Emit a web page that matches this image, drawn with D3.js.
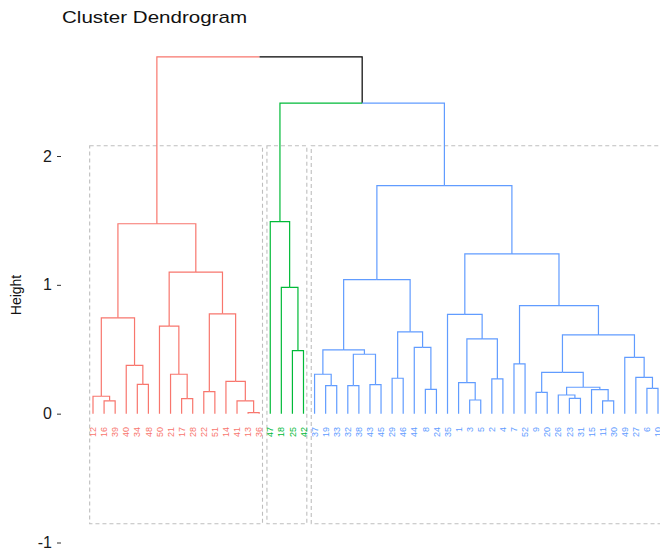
<!DOCTYPE html>
<html>
<head>
<meta charset="utf-8">
<script src="https://cdn.jsdelivr.net/npm/d3@7"></script>
<style>
  html, body { margin: 0; padding: 0; background: #fff; }
  svg { display: block; font-family: "Liberation Sans", Arial, sans-serif; }
</style>
</head>
<body>
<svg id="chart" width="660" height="554"></svg>
<script>
// Leaf order along the x axis
const leafOrder = ["12","16","39","40","34","48","50","21","17","28","22","51","14","41","13","36",
  "47","18","25","42",
  "37","19","33","32","38","43","45","29","46","44","8","24","35","1","3","5","2","4","7","52",
  "9","20","26","23","31","15","11","30","49","27","6","10"];

// Cluster membership (k = 3)
const clusterRed   = ["12","16","39","40","34","48","50","21","17","28","22","51","14","41","13","36"];
const clusterGreen = ["47","18","25","42"];
const clusterBlue  = ["37","19","33","32","38","43","45","29","46","44","8","24","35","1","3","5","2","4","7","52",
  "9","20","26","23","31","15","11","30","49","27","6","10"];
const clusterColors = ["#F8766D", "#00BA38", "#619CFF"];

// Agglomeration steps: [childA, childB, height]; strings are leaves, numbers refer to earlier steps
const mergeA = ["16","12","34","40",1,"17","21","50","22","13","41","14",8,7,4,
  "25","18","47",
  "19","37","32","43",20,19,"29","8","44",24,23,"3","1","2",30,"35","7","9","23","26","11","15",37,35,"6","27","49",41,34,33,28,
  17,14];
const mergeB = ["39",0,"48",2,3,"28",5,6,"51","36",9,10,11,12,13,
  "42",15,16,
  "33",18,"38","45",21,22,"46","24",25,26,27,"5",29,"4",31,32,"52","20","31",36,"30",38,39,40,"10",42,43,44,45,46,47,
  48,49];
const mergeHeight = [0.10,0.135,0.228,0.375,0.744,0.117,0.306,0.68,0.171,0.008,0.10,0.251,0.775,1.098,1.474,
  0.49,0.98,1.49,
  0.218,0.306,0.218,0.225,0.461,0.495,0.275,0.189,0.515,0.635,1.041,0.106,0.241,0.27,0.58,0.77,0.386,0.166,0.119,0.145,0.10,0.186,0.205,0.321,0.197,0.282,0.437,0.611,0.839,1.24,1.77,
  2.41,2.77];

const yTicks = [-1, 0, 1, 2];
const rectTop = 2.08, rectBottom = -0.855;

const svg = d3.select("#chart");

const x = d3.scaleLinear().domain([0, leafOrder.length - 1]).range([93, 658]);
const y = d3.scaleLinear().domain([-1, 2]).range([542.5, 156]);

const colorOf = {};
[clusterRed, clusterGreen, clusterBlue].forEach((c, i) => c.forEach(l => colorOf[l] = clusterColors[i]));

// Build nodes
const leafNode = {};
leafOrder.forEach((l, i) => leafNode[l] = { x: x(i), h: 0, color: colorOf[l], label: l });
const nodes = [];
mergeA.forEach((a, i) => {
  const ca = typeof a === "string" ? leafNode[a] : nodes[a];
  const b = mergeB[i];
  const cb = typeof b === "string" ? leafNode[b] : nodes[b];
  const color = ca.color === cb.color ? ca.color : "#000000";
  nodes.push({ x: (ca.x + cb.x) / 2, h: mergeHeight[i], children: [ca, cb], color });
});
const root = nodes[nodes.length - 1];

// Cluster rectangles (dashed)
const gRect = svg.append("g");
[clusterRed, clusterGreen, clusterBlue].forEach(c => {
  const i0 = leafOrder.indexOf(c[0]), i1 = leafOrder.indexOf(c[c.length - 1]);
  const x0 = x(i0 - 0.3), x1 = x(i1 + 0.3);
  gRect.append("rect")
    .attr("x", x0).attr("y", y(rectTop))
    .attr("width", x1 - x0).attr("height", y(rectBottom) - y(rectTop))
    .attr("fill", "none").attr("stroke", "#BEBEBE")
    .attr("stroke-width", 1.1).attr("stroke-dasharray", "4,3");
});

// Elbow segments: parent height -> child position, coloured by child
const gTree = svg.append("g").attr("fill", "none").attr("stroke-width", 1.2);
function drawEdges(node) {
  if (!node.children) return;
  node.children.forEach(ch => {
    gTree.append("path")
      .attr("d", `M${node.x},${y(node.h)}H${ch.x}V${y(ch.h)}`)
      .attr("stroke", ch.color);
    drawEdges(ch);
  });
}
drawEdges(root);

// Leaf labels
svg.append("g").selectAll("text").data(leafOrder).join("text")
  .attr("transform", (d, i) => `translate(${x(i)},427) rotate(-90)`)
  .attr("dy", "0.35em")
  .attr("text-anchor", "end")
  .attr("font-size", 9)
  .attr("fill", d => colorOf[d])
  .text(d => d);

// Y axis
const yAxis = d3.axisLeft(y).tickValues(yTicks).tickSize(4).tickPadding(5).tickFormat(d => String(d));
const gAxis = svg.append("g").attr("transform", "translate(61,0)").call(yAxis);
gAxis.select(".domain").remove();
gAxis.selectAll(".tick line").attr("stroke", "#333");
gAxis.selectAll(".tick text").attr("font-size", 16).attr("fill", "#1a1a1a")
  .attr("font-family", "Liberation Sans, Arial, sans-serif");

// Axis title
svg.append("text")
  .attr("transform", "translate(21,295) rotate(-90)")
  .attr("text-anchor", "middle")
  .attr("font-size", 14)
  .attr("fill", "#111")
  .text("Height");

// Title
svg.append("text")
  .attr("x", 62).attr("y", 22.5)
  .attr("font-size", 17)
  .attr("textLength", 185).attr("lengthAdjust", "spacingAndGlyphs")
  .attr("fill", "#111")
  .text("Cluster Dendrogram");
</script>
</body>
</html>
